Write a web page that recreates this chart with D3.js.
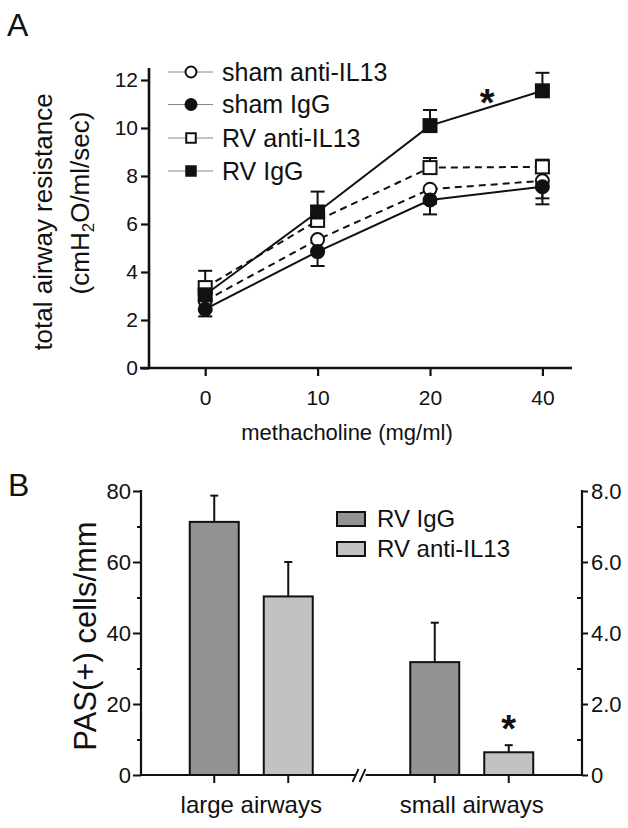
<!DOCTYPE html>
<html>
<head>
<meta charset="utf-8">
<script src="https://cdn.jsdelivr.net/npm/d3@7"></script>
<style>
  html, body { margin: 0; padding: 0; background: #fff; }
  svg text { font-family: "Liberation Sans", Arial, sans-serif; fill: #111; }
</style>
</head>
<body>
<svg id="chart" width="628" height="828"></svg>
<script>
// ---------- Panel A data ----------
const doses = ["0", "10", "20", "40"];
const seriesA = ["sham anti-IL13", "sham IgG", "RV anti-IL13", "RV IgG"];
const shamAnti = [2.8, 5.35, 7.45, 7.8];
const shamIgG = [2.45, 4.85, 7.0, 7.55];
const rvAnti = [3.35, 6.15, 8.35, 8.38];
const rvIgG = [3.05, 6.5, 10.1, 11.55];
const shamAntiErr = [0.4, 0.5, 0.6, 0.73];
const shamIgGErr = [0.3, 0.6, 0.6, 0.73];
const rvAntiErr = [0.7, 0.6, 0.4, 0.3];
const rvIgGErr = [0.5, 0.85, 0.65, 0.75];
const yTicksA = [0, 2, 4, 6, 8, 10, 12];

// ---------- Panel B data ----------
const airways = ["large airways", "small airways"];
const seriesB = ["RV IgG", "RV anti-IL13"];
const pasRvIgG = [71.3, 31.8];
const pasRvAnti = [50.3, 6.4];
const pasRvIgGErr = [7.4, 11.1];
const pasRvAntiErr = [9.7, 2.0];
const yTicksBLeft = [0, 20, 40, 60, 80];
const yTicksBRight = [0, 2, 4, 6, 8];

const svg = d3.select("#chart");
svg.append("rect").attr("width", 628).attr("height", 828).attr("fill", "#fff");

// ================= PANEL A =================
const xA = d3.scalePoint().domain(doses).range([149, 598.6]).padding(0.5);
const yA = d3.scaleLinear().domain([0, 12]).range([368, 80]);

const gA = svg.append("g");
// y axis
const yAxisA = d3.axisLeft(yA).tickValues(yTicksA).tickSize(8).tickPadding(3).tickFormat(d3.format("d"));
const gyA = gA.append("g").attr("transform", "translate(149,0)").call(yAxisA);
gyA.select(".domain").remove();
gyA.selectAll("line").attr("stroke", "#111").attr("stroke-width", 2.2);
gyA.selectAll("text").attr("font-size", 21);
gA.append("line").attr("x1", 149).attr("x2", 149).attr("y1", 68).attr("y2", 369)
  .attr("stroke", "#111").attr("stroke-width", 2.6);
// x axis
const xAxisA = d3.axisBottom(xA).tickSize(8).tickPadding(14);
const gxA = gA.append("g").attr("transform", "translate(0,368)").call(xAxisA);
gxA.select(".domain").remove();
gxA.selectAll("line").attr("stroke", "#111").attr("stroke-width", 2.2);
gxA.selectAll("text").attr("font-size", 21);
gA.append("line").attr("x1", 140).attr("x2", 572).attr("y1", 368).attr("y2", 368)
  .attr("stroke", "#111").attr("stroke-width", 2.6);

// axis titles
gA.append("text").attr("transform", "translate(52,222) rotate(-90)")
  .attr("text-anchor", "middle").attr("font-size", 26).text("total airway resistance");
const yTitleA2 = gA.append("text").attr("transform", "translate(89,203) rotate(-90)")
  .attr("text-anchor", "middle").attr("font-size", 26);
yTitleA2.append("tspan").text("(cmH");
yTitleA2.append("tspan").attr("font-size", 17).attr("dy", 5).text("2");
yTitleA2.append("tspan").attr("dy", -5).text("O/ml/sec)");
gA.append("text").attr("x", 347).attr("y", 440).attr("text-anchor", "middle")
  .attr("font-size", 22).text("methacholine (mg/ml)");

svg.append("text").attr("x", 7).attr("y", 36).attr("font-size", 32).text("A");

const defsA = [
  { name: seriesA[0], vals: shamAnti, err: shamAntiErr, dir: -1, shape: "circle", fill: "#fff", dash: "7,5" },
  { name: seriesA[1], vals: shamIgG, err: shamIgGErr, dir: -1, shape: "circle", fill: "#111", dash: null },
  { name: seriesA[2], vals: rvAnti, err: rvAntiErr, dir: 1, shape: "square", fill: "#fff", dash: "7,5" },
  { name: seriesA[3], vals: rvIgG, err: rvIgGErr, dir: 1, shape: "square", fill: "#111", dash: null }
];

const line = d3.line().x(d => xA(d.x)).y(d => yA(d.y));

// error bars first
defsA.forEach(s => {
  const pts = doses.map((d, i) => ({ x: d, y: s.vals[i], e: s.err[i] }));
  const g = gA.append("g");
  pts.forEach(p => {
    const yEnd = yA(p.y + s.dir * p.e);
    g.append("line").attr("x1", xA(p.x)).attr("x2", xA(p.x)).attr("y1", yA(p.y)).attr("y2", yEnd)
      .attr("stroke", "#111").attr("stroke-width", 2);
    g.append("line").attr("x1", xA(p.x) - 7).attr("x2", xA(p.x) + 7).attr("y1", yEnd).attr("y2", yEnd)
      .attr("stroke", "#111").attr("stroke-width", 2);
  });
});
// lines
defsA.forEach(s => {
  const pts = doses.map((d, i) => ({ x: d, y: s.vals[i] }));
  gA.append("path").datum(pts).attr("d", line).attr("fill", "none")
    .attr("stroke", "#111").attr("stroke-width", 2)
    .attr("stroke-dasharray", s.dash);
});
// markers
function marker(g, shape, cx, cy, size, fill) {
  if (shape === "circle") {
    g.append("circle").attr("cx", cx).attr("cy", cy).attr("r", size / 2)
      .attr("fill", fill).attr("stroke", "#111").attr("stroke-width", 2);
  } else {
    g.append("rect").attr("x", cx - size / 2).attr("y", cy - size / 2).attr("width", size).attr("height", size)
      .attr("fill", fill).attr("stroke", "#111").attr("stroke-width", 2);
  }
}
defsA.forEach(s => {
  doses.forEach((d, i) => marker(gA, s.shape, xA(d), yA(s.vals[i]), 13, s.fill));
});
// asterisk A
gA.append("text").attr("x", (xA("20") + xA("40")) / 2 + 1).attr("y", yA(10.5))
  .attr("text-anchor", "middle").attr("font-size", 38).attr("font-weight", "bold").text("*");

// legend A
const legA = gA.append("g");
const legRowsY = [72, 104.5, 138, 171];
defsA.forEach((s, i) => {
  const y = legRowsY[i];
  legA.append("line").attr("x1", 168).attr("x2", 213).attr("y1", y).attr("y2", y)
    .attr("stroke", "#888").attr("stroke-width", 1);
  marker(legA, s.shape, 191, y, s.shape === "circle" ? 11 : 9.5, s.fill);
  legA.append("text").attr("x", 222).attr("y", y + 8.5).attr("font-size", 25).text(s.name);
});

// ================= PANEL B =================
const gB = svg.append("g");
const x0 = d3.scaleBand().domain(airways).range([141, 582]).padding(0);
const x1 = d3.scaleBand().domain(seriesB).range([-74, 74]).paddingInner(0.338).paddingOuter(0.169);
const yBL = d3.scaleLinear().domain([0, 80]).range([775, 491]);
const yBR = d3.scaleLinear().domain([0, 8]).range([775, 491]);

// left axis
const gyBL = gB.append("g").attr("transform", "translate(141,0)")
  .call(d3.axisLeft(yBL).tickValues(yTicksBLeft).tickSize(8).tickPadding(2).tickFormat(d3.format("d")));
gyBL.select(".domain").remove();
gyBL.selectAll("line").attr("stroke", "#111").attr("stroke-width", 2);
gyBL.selectAll("text").attr("font-size", 22);
const gyBLm = gB.append("g").attr("transform", "translate(141,0)")
  .call(d3.axisLeft(yBL).tickValues([10, 30, 50, 70]).tickSize(4).tickFormat(""));
gyBLm.select(".domain").remove();
gyBLm.selectAll("line").attr("stroke", "#111").attr("stroke-width", 2);

// right axis
const gyBR = gB.append("g").attr("transform", "translate(582,0)")
  .call(d3.axisRight(yBR).tickValues(yTicksBRight).tickSize(6).tickPadding(3)
    .tickFormat(d => d === 0 ? "0" : d3.format(".1f")(d)));
gyBR.select(".domain").remove();
gyBR.selectAll("line").attr("stroke", "#111").attr("stroke-width", 2);
gyBR.selectAll("text").attr("font-size", 22);
const gyBRm = gB.append("g").attr("transform", "translate(582,0)")
  .call(d3.axisLeft(yBR).tickValues([1, 3, 5, 7]).tickSize(5).tickFormat(""));
gyBRm.select(".domain").remove();
gyBRm.selectAll("line").attr("stroke", "#111").attr("stroke-width", 2);

gB.append("line").attr("x1", 141).attr("x2", 141).attr("y1", 490).attr("y2", 776).attr("stroke", "#111").attr("stroke-width", 2.2);
gB.append("line").attr("x1", 582).attr("x2", 582).attr("y1", 490).attr("y2", 776).attr("stroke", "#111").attr("stroke-width", 2.2);
gB.append("line").attr("x1", 141).attr("x2", 582).attr("y1", 775).attr("y2", 775).attr("stroke", "#111").attr("stroke-width", 2.2);

// x ticks at bar centers
airways.forEach(a => {
  seriesB.forEach(s => {
    const cx = x0(a) + x0.bandwidth() / 2 + x1(s) + x1.bandwidth() / 2;
    gB.append("line").attr("x1", cx).attr("x2", cx).attr("y1", 775).attr("y2", 783)
      .attr("stroke", "#111").attr("stroke-width", 2);
  });
  gB.append("text").attr("x", x0(a) + x0.bandwidth() / 2).attr("y", 813)
    .attr("text-anchor", "middle").attr("font-size", 24).text(a);
});

// axis break
const bx = (x0("small airways"));
gB.append("rect").attr("x", bx - 6).attr("y", 771).attr("width", 10).attr("height", 8).attr("fill", "#fff");
[-6, 1].forEach(dx => {
  gB.append("line").attr("x1", bx + dx - 3).attr("x2", bx + dx + 3).attr("y1", 782).attr("y2", 769)
    .attr("stroke", "#111").attr("stroke-width", 1.8);
});

// bars
const barColors = { "RV IgG": "#939393", "RV anti-IL13": "#c2c2c2" };
const barVals = { "RV IgG": pasRvIgG, "RV anti-IL13": pasRvAnti };
const barErr = { "RV IgG": pasRvIgGErr, "RV anti-IL13": pasRvAntiErr };
airways.forEach((a, i) => {
  seriesB.forEach(s => {
    const bxp = x0(a) + x0.bandwidth() / 2 + x1(s);
    const v = barVals[s][i];
    const e = barErr[s][i];
    const cx = bxp + x1.bandwidth() / 2;
    gB.append("line").attr("x1", cx).attr("x2", cx).attr("y1", yBL(v)).attr("y2", yBL(v + e))
      .attr("stroke", "#111").attr("stroke-width", 2);
    gB.append("line").attr("x1", cx - 4).attr("x2", cx + 4).attr("y1", yBL(v + e)).attr("y2", yBL(v + e))
      .attr("stroke", "#111").attr("stroke-width", 2);
    gB.append("rect").attr("x", bxp).attr("y", yBL(v)).attr("width", x1.bandwidth()).attr("height", yBL(0) - yBL(v))
      .attr("fill", barColors[s]).attr("stroke", "#111").attr("stroke-width", 2);
  });
});
// asterisk B
{
  const cx = x0("small airways") + x0.bandwidth() / 2 + x1("RV anti-IL13") + x1.bandwidth() / 2;
  gB.append("text").attr("x", cx).attr("y", yBL(pasRvAnti[1] + pasRvAntiErr[1]) - 3)
    .attr("text-anchor", "middle").attr("font-size", 38).attr("font-weight", "bold").text("*");
}

// legend B
seriesB.forEach((s, i) => {
  const y = 512 + i * 30;
  gB.append("rect").attr("x", 337).attr("y", y).attr("width", 28).attr("height", 14)
    .attr("fill", barColors[s]).attr("stroke", "#111").attr("stroke-width", 2);
  gB.append("text").attr("x", 377).attr("y", y + 15).attr("font-size", 24).text(s);
});

// y title B
gB.append("text").attr("transform", "translate(96,636) rotate(-90)").attr("text-anchor", "middle")
  .attr("font-size", 31).text("PAS(+) cells/mm");

svg.append("text").attr("x", 8).attr("y", 496).attr("font-size", 32).text("B");
</script>
</body>
</html>
